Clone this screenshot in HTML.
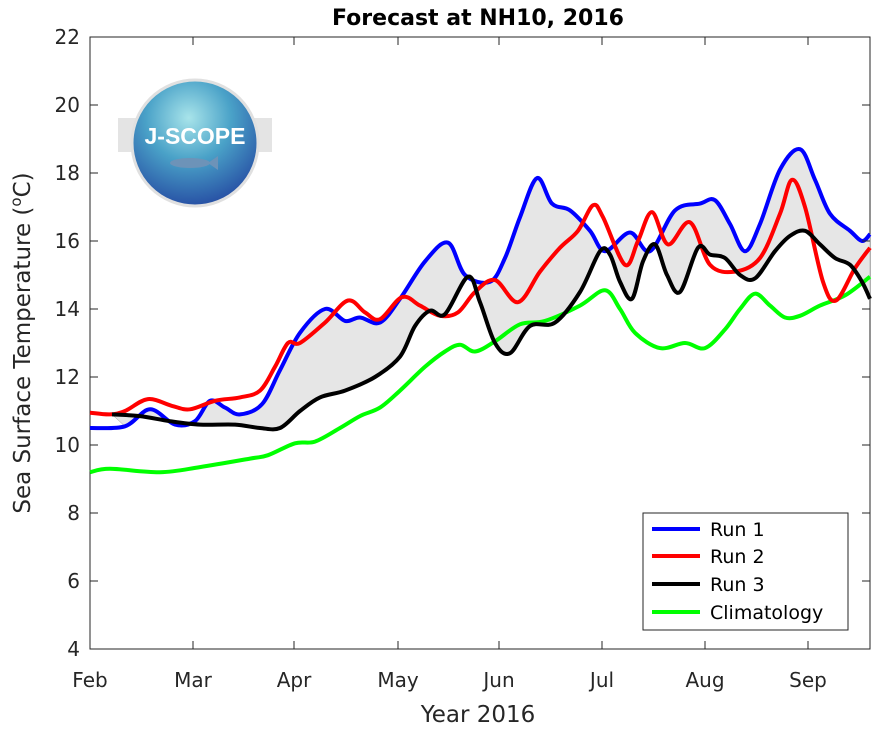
<!DOCTYPE html>
<html><head><meta charset="utf-8"><style>
body{margin:0;background:#fff}
svg text{font-family:"DejaVu Sans","Liberation Sans",sans-serif}
</style></head><body>
<svg id="s" width="879" height="729" xmlns="http://www.w3.org/2000/svg">
<defs>
<radialGradient id="g" cx="45%" cy="30%" r="75%">
<stop offset="0" stop-color="#a8e4ea"/><stop offset="0.45" stop-color="#4aa2c8"/><stop offset="1" stop-color="#2346a0"/>
</radialGradient>
</defs>
<rect x="90" y="37" width="780" height="612" fill="#fff" stroke="#262626" stroke-width="1"/>
<g id="fill"></g>
<g id="lines"></g>
<g id="ticks" stroke="#262626" stroke-width="1"></g>
<g id="labels" font-size="20" fill="#262626"></g>
<rect x="118" y="118" width="154" height="34" fill="#e4e4e4"/>
<circle cx="195" cy="143" r="63" fill="url(#g)" stroke="#e0e0e0" stroke-width="3"/>
<text x="195" y="144" font-size="23" font-weight="bold" fill="#fff" text-anchor="middle" style="font-family:'Liberation Sans',sans-serif">J-SCOPE</text>
<ellipse cx="190" cy="163" rx="20" ry="5" fill="#6d93b8"/>
<path d="M208 163 L218 156 L218 170 Z" fill="#6d93b8"/>
<text x="478" y="25" font-size="22" font-weight="bold" text-anchor="middle" fill="#000">Forecast at NH10, 2016</text>
<text x="478" y="722" font-size="23" text-anchor="middle" fill="#262626">Year 2016</text>
<text transform="translate(30,343) rotate(-90)" font-size="23" text-anchor="middle" fill="#262626">Sea Surface Temperature (<tspan baseline-shift="super" font-size="15">o</tspan>C)</text>
<rect x="643" y="513" width="205" height="117" fill="#fff" stroke="#262626"/>
<g stroke-width="4">
<line x1="652" y1="529" x2="700" y2="529" stroke="#0000ff"/>
<line x1="652" y1="556" x2="700" y2="556" stroke="#ff0000"/>
<line x1="652" y1="584" x2="700" y2="584" stroke="#000"/>
<line x1="652" y1="612" x2="700" y2="612" stroke="#00ff00"/>
</g>
<g font-size="19" fill="#000">
<text x="710" y="536">Run 1</text><text x="710" y="563">Run 2</text><text x="710" y="591">Run 3</text><text x="710" y="619">Climatology</text>
</g>
</svg>
<script>
const Y=t=>649-(t-4)*34;
const blue=[[90,10.5],[125,10.55],[150,11.05],[175,10.6],[195,10.7],[210,11.3],[225,11.1],[240,10.9],[262,11.2],[280,12.2],[300,13.3],[325,14.0],[345,13.65],[360,13.75],[380,13.6],[400,14.3],[425,15.4],[448,15.95],[465,15.0],[490,14.8],[505,15.5],[520,16.7],[537,17.85],[552,17.1],[570,16.9],[590,16.3],[605,15.7],[630,16.25],[650,15.7],[675,16.9],[700,17.1],[715,17.2],[730,16.5],[745,15.7],[760,16.5],[780,18.1],[800,18.7],[815,17.8],[830,16.8],[850,16.3],[862,16.0],[870,16.2]];
const red=[[90,10.95],[110,10.9],[125,11.0],[148,11.35],[172,11.15],[190,11.05],[215,11.3],[240,11.4],[260,11.6],[275,12.3],[288,13.0],[300,13.0],[325,13.6],[348,14.25],[365,13.9],[380,13.7],[402,14.35],[420,14.1],[440,13.8],[458,13.9],[475,14.5],[495,14.85],[518,14.2],[540,15.1],[560,15.8],[578,16.3],[593,17.05],[603,16.7],[625,15.3],[638,16.0],[652,16.85],[668,15.9],[690,16.55],[710,15.3],[735,15.1],[760,15.5],[780,16.8],[792,17.8],[805,17.0],[823,14.8],[836,14.25],[855,15.2],[870,15.8]];
const black=[[112,10.9],[140,10.85],[170,10.7],[200,10.6],[235,10.6],[260,10.5],[280,10.5],[300,11.0],[320,11.4],[345,11.6],[375,12.0],[400,12.6],[415,13.5],[430,13.95],[445,13.85],[468,14.95],[480,14.2],[495,13.0],[510,12.7],[530,13.5],[555,13.6],[580,14.5],[600,15.7],[610,15.6],[620,14.8],[632,14.3],[643,15.4],[655,15.9],[667,15.0],[680,14.5],[698,15.8],[710,15.6],[725,15.5],[740,15.0],[755,14.9],[775,15.7],[790,16.15],[805,16.3],[820,15.9],[835,15.5],[850,15.3],[862,14.8],[870,14.3]];
const green=[[90,9.2],[110,9.3],[160,9.2],[200,9.35],[250,9.6],[268,9.7],[295,10.05],[315,10.1],[340,10.5],[360,10.85],[380,11.1],[400,11.6],[425,12.3],[445,12.75],[460,12.95],[475,12.75],[495,13.05],[520,13.55],[545,13.65],[580,14.1],[605,14.55],[620,14.0],[635,13.3],[660,12.85],[685,13.0],[705,12.85],[725,13.4],[740,14.0],[755,14.45],[770,14.1],[785,13.75],[800,13.8],[820,14.1],[845,14.4],[870,14.95]];
function path(a,start){a=a.map(p=>[p[0],Y(p[1])]);let d=(start||'M')+a[0][0]+','+a[0][1];
for(let i=0;i<a.length-1;i++){const p0=a[Math.max(0,i-1)],p1=a[i],p2=a[i+1],p3=a[Math.min(a.length-1,i+2)];
d+=' C'+(p1[0]+(p2[0]-p0[0])/6)+','+(p1[1]+(p2[1]-p0[1])/6)+' '+(p2[0]-(p3[0]-p1[0])/6)+','+(p2[1]-(p3[1]-p1[1])/6)+' '+p2[0]+','+p2[1];}return d;}
const NS='http://www.w3.org/2000/svg';
function add(g,attrs){const e=document.createElementNS(NS,attrs.tag);delete attrs.tag;for(const k in attrs)e.setAttribute(k,attrs[k]);document.getElementById(g).appendChild(e);return e;}
const bl=blue.filter(p=>p[0]>=112);
add('fill',{tag:'path',d:path(bl)+' '+path(black.slice().reverse(),'L')+'Z',fill:'#e6e6e6',stroke:'#999','stroke-width':0.5});
[[green,'#00ff00'],[blue,'#0000ff'],[red,'#ff0000'],[black,'#000']].forEach(([a,c])=>add('lines',{tag:'path',d:path(a),fill:'none',stroke:c,'stroke-width':4,'stroke-linejoin':'round'}));
for(let t=4;t<=22;t+=2){const y=Y(t);add('ticks',{tag:'line',x1:90,y1:y,x2:98,y2:y});add('ticks',{tag:'line',x1:862,y1:y,x2:870,y2:y});
const e=add('labels',{tag:'text',x:80,y:y+7,'text-anchor':'end'});e.textContent=t;}
[['Feb',90],['Mar',193],['Apr',294],['May',398],['Jun',499],['Jul',602],['Aug',705],['Sep',808]].forEach(([m,x])=>{add('ticks',{tag:'line',x1:x,y1:649,x2:x,y2:641});add('ticks',{tag:'line',x1:x,y1:37,x2:x,y2:45});
const e=add('labels',{tag:'text',x:x,y:687,'text-anchor':'middle'});e.textContent=m;});
</script>
</body></html>
